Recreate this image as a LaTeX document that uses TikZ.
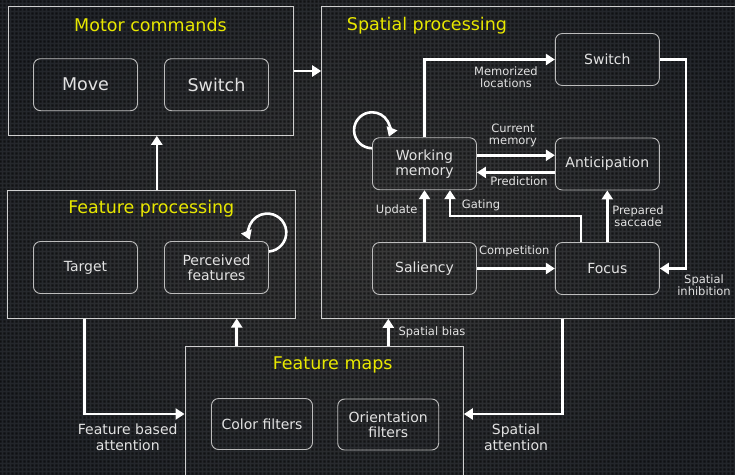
\documentclass[tikz,border=0pt]{standalone}
\usepackage{fontspec}
\setmainfont{DejaVu Sans}
\usetikzlibrary{arrows.meta,calc,patterns.meta}
\definecolor{bgin}{HTML}{3A3A3A}
\definecolor{bgout}{HTML}{22252A}
\definecolor{ttl}{HTML}{E8E800}
\definecolor{txt}{HTML}{E2E2E2}
\definecolor{frame}{HTML}{CFCFCF}
\definecolor{nodeline}{HTML}{BDBDBD}
\tikzdeclarepattern{
  name=carbonsq,
  type=uncolored,
  bounding box={(0pt,0pt) and (4pt,4pt)},
  tile size={(4pt,4pt)},
  code={\pgfpathrectangle{\pgfpoint{0.6pt}{0.6pt}}{\pgfpoint{2.8pt}{2.8pt}}\pgfusepath{fill}}
}
\tikzset{
  outerbox/.style={draw=frame, line width=1pt, inner sep=0pt},
  ttlstyle/.style={text=ttl, font=\fontsize{17.5}{20}\selectfont, inner sep=0pt},
  blk/.style={draw=nodeline, line width=0.9pt, rounded corners=7pt, minimum width=104pt,
    minimum height=52pt, text=txt, align=center, inner sep=1pt,
    font=\fontsize{14}{15}\selectfont},
  bigblk/.style={blk, font=\fontsize{17.5}{20}\selectfont},
  lbl/.style={text=txt, align=center, inner sep=0pt, font=\fontsize{11.5}{12.3}\selectfont},
  biglbl/.style={text=txt, align=center, inner sep=0pt, font=\fontsize{14}{15.7}\selectfont},
  arr/.style={draw=white, line width=2.6pt, -{Triangle[width=11pt,length=9pt]}},
}
\begin{document}
\begin{tikzpicture}[x=1pt,y=-1pt]
\useasboundingbox (0,0) rectangle (735,474);
\clip (0,0) rectangle (735,474);
\shade[inner color=bgin, outer color=bgout] (-60,-60) rectangle (795,534);
\fill[pattern=carbonsq, pattern color=black, fill opacity=0.55] (0,0) rectangle (735,474);

% outer boxes
\node[outerbox, minimum width=285.3pt, minimum height=128.6pt] (motor) at (150.7,71) {};
\node[outerbox, minimum width=424pt, minimum height=311.6pt] (sp) at (533.7,162.5) {};
\node[outerbox, minimum width=287.7pt, minimum height=128pt] (fp) at (151.8,254) {};
\node[outerbox, minimum width=278.3pt, minimum height=143.3pt] (fm) at (324.2,418.3) {};

% titles
\node[ttlstyle] (tmotor) at (150.5,24.5) {Motor commands};
\node[ttlstyle, anchor=west] (tsp) at (346.7,25.5) {Spatial processing};
\node[ttlstyle] (tfp) at (151.3,208.3) {Feature processing};
\node[ttlstyle] (tfm) at (332.7,365) {Feature maps};

% motor commands
\node[bigblk] (move) at (85.5,84.7) {Move};
\node[bigblk] (msw) at (216.5,84.7) {Switch};

% feature processing
\node[blk] (target) at (85.5,267.5) {Target};
\node[blk] (pf) at (216.5,267.5) {Perceived\\features};

% feature maps
\node[blk, minimum width=101pt, minimum height=51pt] (color) at (262,424) {Color filters};
\node[blk, minimum width=101pt, minimum height=51pt] (orient) at (388.2,424.5) {Orientation\\filters};

% spatial processing
\node[blk] (ssw) at (607.3,59.5) {Switch};
\node[blk] (wm) at (424.5,163.7) {Working\\memory};
\node[blk] (an) at (607.3,164) {Anticipation};
\node[blk] (sa) at (424.5,268.5) {Saliency};
\node[blk] (fo) at (607.3,268.5) {Focus};

% spatial connectors
\draw[arr] (wm.north) |- (ssw.west);
\draw[arr] ([yshift=8.4pt]wm.east) -- ([yshift=8.4pt]wm.east -| an.west);
\draw[arr] ([yshift=-8.4pt]an.west) -- ([yshift=-8.4pt]an.west -| wm.east);
\draw[arr] (ssw.east) -- ++(26.4,0) |- (fo.east);
\draw[arr] (sa.north) -- (wm.south);
\draw[arr] ([xshift=-26.3pt]fo.north) -- ++(0,-26) -| ([xshift=25.5pt]wm.south);
\draw[arr] (fo.north) -- (an.south);
\draw[arr] (sa.east) -- (fo.west);
\draw[arr] ([yshift=-11pt]wm.north west) arc[start angle=90, end angle=381, radius=18];

% feature processing loop
\draw[arr] ([yshift=16pt]pf.east) arc[start angle=85, end angle=-202, radius=19];

% inter-box connectors
\draw[arr] ([xshift=5pt]fp.north) -- ([xshift=5pt]fp.north |- motor.south);
\draw[arr] (motor.east) -- (motor.east -| sp.west);
\draw[arr] ([xshift=-87.5pt]fm.north) -- ([xshift=-87.5pt]fm.north |- fp.south);
\draw[arr] ([xshift=64.1pt]fm.north) -- ([xshift=64.1pt]fm.north |- sp.south);
\draw[arr] ([xshift=-67.5pt]fp.south) |- ([yshift=4.3pt]fm.west);
\draw[arr] ([xshift=29pt]sp.south) |- ([yshift=4.3pt]fm.east);

% labels
\node[lbl] (lmem) at (506,77) {Memorized\\locations};
\node[lbl] (lcur) at (513,135.5) {Current\\memory};
\node[lbl] (lpred) at (519,181.7) {Prediction};
\node[lbl] (lupd) at (396.7,210.7) {Update};
\node[lbl] (lgat) at (481,205.7) {Gating};
\node[lbl] (lprep) at (638,216.4) {Prepared\\saccade};
\node[lbl] (lcomp) at (514.3,251.7) {Competition};
\node[lbl] (linh) at (704,285) {Spatial\\inhibition};
\node[lbl] (lbias) at (432,332) {Spatial bias};
\node[biglbl] (lfba) at (127.7,437) {Feature based\\attention};
\node[biglbl] (lsa) at (516,437) {Spatial\\attention};
\end{tikzpicture}
\end{document}
